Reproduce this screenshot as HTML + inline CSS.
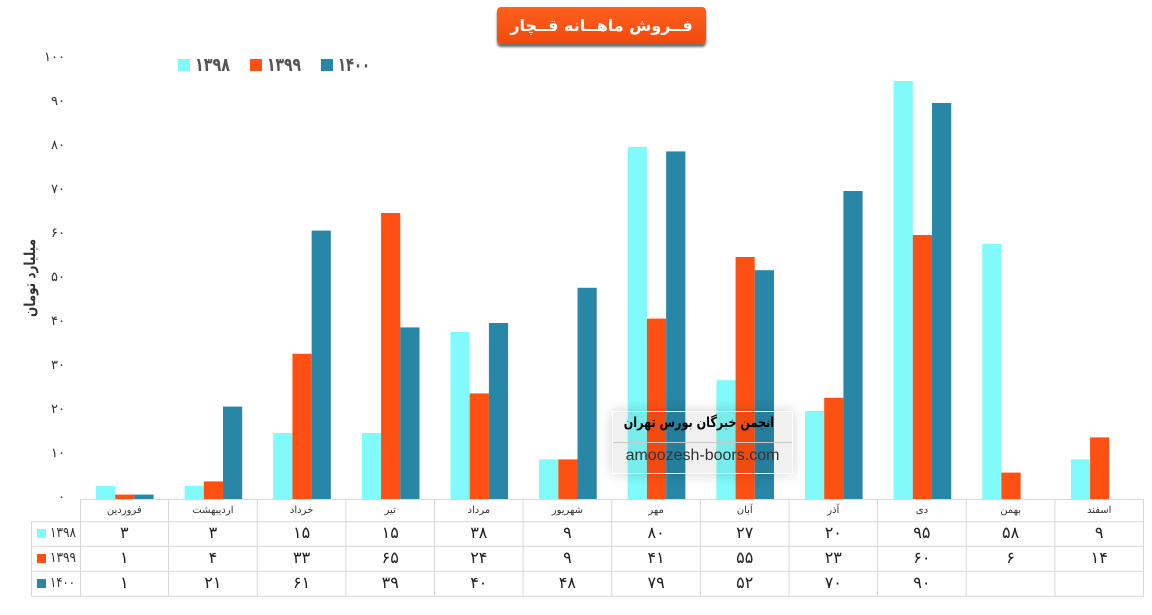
<!DOCTYPE html>
<html>
<head>
<meta charset="utf-8">
<style>
html,body{margin:0;padding:0;background:#fff;}
body{width:1152px;height:615px;position:relative;overflow:hidden;font-family:"DejaVu Sans","Liberation Sans",sans-serif;}
svg{position:absolute;left:0;top:0;}
.title{position:absolute;left:497px;top:7px;width:209px;height:37px;border-radius:4px;
 background:linear-gradient(#ff5f1f,#f24a0c);box-shadow:0 3px 2px rgba(60,60,60,0.75);
 color:#fff;font-weight:bold;font-size:16px;text-align:center;line-height:37px;direction:rtl;white-space:nowrap;
 font-family:"DejaVu Sans",sans-serif;}
.wm{position:absolute;left:612px;top:411px;width:179px;height:61px;border:1px solid #fff;
 background:rgba(0,0,0,0.06);box-shadow:0 0 12px rgba(0,0,0,0.18);}
.wm .t{position:absolute;left:0;top:3px;width:179px;text-align:center;font-weight:bold;font-size:14px;color:#000;direction:rtl;white-space:nowrap;transform:scaleX(0.8);font-family:"DejaVu Sans",sans-serif;}
.wm .l{position:absolute;left:0;top:30px;width:179px;height:1px;background:#c8c8c8;}
.wm .u{position:absolute;left:0;top:35px;width:179px;text-align:center;font-size:16px;color:#333;white-space:nowrap;font-family:"Liberation Sans",sans-serif;}
</style>
</head>
<body>
<svg width="1152" height="615" viewBox="0 0 1152 615" xmlns="http://www.w3.org/2000/svg">
 <!-- y axis labels -->
 <g font-family="DejaVu Sans, sans-serif" font-size="13" fill="#333" text-anchor="end">
  <text x="65" y="61">۱۰۰</text>
  <text x="65" y="105">۹۰</text>
  <text x="65" y="149">۸۰</text>
  <text x="65" y="193">۷۰</text>
  <text x="65" y="237">۶۰</text>
  <text x="65" y="281">۵۰</text>
  <text x="65" y="325">۴۰</text>
  <text x="65" y="369">۳۰</text>
  <text x="65" y="413">۲۰</text>
  <text x="65" y="457">۱۰</text>
  <text x="65" y="501">۰</text>
 </g>
 <text transform="translate(35,278) rotate(-90)" text-anchor="middle" font-family="DejaVu Sans, sans-serif" font-size="15" font-weight="bold" fill="#333" textLength="78" lengthAdjust="spacingAndGlyphs">میلیارد تومان</text>

 <!-- legend -->
 <rect x="178" y="59" width="12" height="12" fill="#80fafa"/>
 <text x="195" y="71" font-family="DejaVu Sans, sans-serif" font-size="19" font-weight="bold" fill="#555" textLength="35" lengthAdjust="spacingAndGlyphs">۱۳۹۸</text>
 <rect x="250" y="59" width="12" height="12" fill="#fe5012"/>
 <text x="267" y="71" font-family="DejaVu Sans, sans-serif" font-size="19" font-weight="bold" fill="#555" textLength="34" lengthAdjust="spacingAndGlyphs">۱۳۹۹</text>
 <rect x="321" y="59" width="12" height="12" fill="#2886a6"/>
 <text x="338" y="71" font-family="DejaVu Sans, sans-serif" font-size="19" font-weight="bold" fill="#555" textLength="32" lengthAdjust="spacingAndGlyphs">۱۴۰۰</text>

 <!-- bars 1398 -->
 <g fill="#80fafa">
  <rect x="96" y="485.8" width="19.2" height="13.2"/>
  <rect x="184.625" y="485.8" width="19.2" height="13.2"/>
  <rect x="273.25" y="433" width="19.2" height="66"/>
  <rect x="361.875" y="433" width="19.2" height="66"/>
  <rect x="450.5" y="331.8" width="19.2" height="167.2"/>
  <rect x="539.125" y="459.4" width="19.2" height="39.6"/>
  <rect x="627.75" y="147" width="19.2" height="352"/>
  <rect x="716.375" y="380.2" width="19.2" height="118.8"/>
  <rect x="805" y="411" width="19.2" height="88"/>
  <rect x="893.625" y="81" width="19.2" height="418"/>
  <rect x="982.25" y="243.8" width="19.2" height="255.2"/>
  <rect x="1070.875" y="459.4" width="19.2" height="39.6"/>
 </g>
 <!-- bars 1399 -->
 <g fill="#fe5012">
  <rect x="115.2" y="494.6" width="19.2" height="4.4"/>
  <rect x="203.825" y="481.4" width="19.2" height="17.6"/>
  <rect x="292.45" y="353.8" width="19.2" height="145.2"/>
  <rect x="381.075" y="213" width="19.2" height="286"/>
  <rect x="469.7" y="393.4" width="19.2" height="105.6"/>
  <rect x="558.325" y="459.4" width="19.2" height="39.6"/>
  <rect x="646.95" y="318.6" width="19.2" height="180.4"/>
  <rect x="735.575" y="257" width="19.2" height="242"/>
  <rect x="824.2" y="397.8" width="19.2" height="101.2"/>
  <rect x="912.825" y="235" width="19.2" height="264"/>
  <rect x="1001.45" y="472.6" width="19.2" height="26.4"/>
  <rect x="1090.075" y="437.4" width="19.2" height="61.6"/>
 </g>
 <!-- bars 1400 -->
 <g fill="#2886a6">
  <rect x="134.4" y="494.6" width="19.2" height="4.4"/>
  <rect x="223.025" y="406.6" width="19.2" height="92.4"/>
  <rect x="311.65" y="230.6" width="19.2" height="268.4"/>
  <rect x="400.275" y="327.4" width="19.2" height="171.6"/>
  <rect x="488.9" y="323" width="19.2" height="176"/>
  <rect x="577.525" y="287.8" width="19.2" height="211.2"/>
  <rect x="666.15" y="151.4" width="19.2" height="347.6"/>
  <rect x="754.775" y="270.2" width="19.2" height="228.8"/>
  <rect x="843.4" y="191" width="19.2" height="308"/>
  <rect x="932.025" y="103" width="19.2" height="396"/>
 </g>

 <!-- table grid -->
 <g stroke="#d9d9d9" stroke-width="1" fill="none">
  <line x1="80" y1="499.5" x2="1143.5" y2="499.5"/>
  <line x1="31" y1="521.7" x2="1143.5" y2="521.7"/>
  <line x1="31" y1="546.3" x2="1143.5" y2="546.3"/>
  <line x1="31" y1="571.3" x2="1143.5" y2="571.3"/>
  <line x1="31" y1="596.3" x2="1143.5" y2="596.3"/>
  <line x1="31.5" y1="521.7" x2="31.5" y2="596.3"/>
  <line x1="80.5" y1="499" x2="80.5" y2="596.3"/>
  <line x1="168.6" y1="499" x2="168.6" y2="596.3"/>
  <line x1="257.25" y1="499" x2="257.25" y2="596.3"/>
  <line x1="345.9" y1="499" x2="345.9" y2="596.3"/>
  <line x1="434.5" y1="499" x2="434.5" y2="596.3"/>
  <line x1="523.1" y1="499" x2="523.1" y2="596.3"/>
  <line x1="611.75" y1="499" x2="611.75" y2="596.3"/>
  <line x1="700.4" y1="499" x2="700.4" y2="596.3"/>
  <line x1="789" y1="499" x2="789" y2="596.3"/>
  <line x1="877.6" y1="499" x2="877.6" y2="596.3"/>
  <line x1="966.25" y1="499" x2="966.25" y2="596.3"/>
  <line x1="1054.9" y1="499" x2="1054.9" y2="596.3"/>
  <line x1="1143.5" y1="499" x2="1143.5" y2="596.3"/>
 </g>

 <!-- month headers -->
 <g font-family="DejaVu Sans, sans-serif" font-size="10" fill="#333" text-anchor="middle">
  <text x="124.3" y="513">فروردین</text>
  <text x="212.9" y="513">اردیبهشت</text>
  <text x="301.6" y="513">خرداد</text>
  <text x="390.2" y="513">تیر</text>
  <text x="478.8" y="513">مرداد</text>
  <text x="567.4" y="513">شهریور</text>
  <text x="656.1" y="513">مهر</text>
  <text x="744.7" y="513">آبان</text>
  <text x="833.3" y="513">آذر</text>
  <text x="921.9" y="513">دی</text>
  <text x="1010.6" y="513">بهمن</text>
  <text x="1099.2" y="513">اسفند</text>
 </g>

 <!-- row legends -->
 <rect x="37" y="529" width="9" height="9" fill="#80fafa"/>
 <rect x="37" y="554" width="9" height="9" fill="#fe5012"/>
 <rect x="37" y="579" width="9" height="9" fill="#2886a6"/>
 <g font-family="DejaVu Sans, sans-serif" font-size="14" fill="#333">
  <text x="50" y="537" textLength="26" lengthAdjust="spacingAndGlyphs">۱۳۹۸</text>
  <text x="50" y="562" textLength="26" lengthAdjust="spacingAndGlyphs">۱۳۹۹</text>
  <text x="50" y="587" textLength="25" lengthAdjust="spacingAndGlyphs">۱۴۰۰</text>
 </g>

 <!-- values -->
 <g font-family="DejaVu Sans, sans-serif" font-size="16" fill="#222" text-anchor="middle">
  <text x="124.3" y="538">۳</text>
  <text x="212.9" y="538">۳</text>
  <text x="301.6" y="538">۱۵</text>
  <text x="390.2" y="538">۱۵</text>
  <text x="478.8" y="538">۳۸</text>
  <text x="567.4" y="538">۹</text>
  <text x="656.1" y="538">۸۰</text>
  <text x="744.7" y="538">۲۷</text>
  <text x="833.3" y="538">۲۰</text>
  <text x="921.9" y="538">۹۵</text>
  <text x="1010.6" y="538">۵۸</text>
  <text x="1099.2" y="538">۹</text>

  <text x="124.3" y="563">۱</text>
  <text x="212.9" y="563">۴</text>
  <text x="301.6" y="563">۳۳</text>
  <text x="390.2" y="563">۶۵</text>
  <text x="478.8" y="563">۲۴</text>
  <text x="567.4" y="563">۹</text>
  <text x="656.1" y="563">۴۱</text>
  <text x="744.7" y="563">۵۵</text>
  <text x="833.3" y="563">۲۳</text>
  <text x="921.9" y="563">۶۰</text>
  <text x="1010.6" y="563">۶</text>
  <text x="1099.2" y="563">۱۴</text>

  <text x="124.3" y="588">۱</text>
  <text x="212.9" y="588">۲۱</text>
  <text x="301.6" y="588">۶۱</text>
  <text x="390.2" y="588">۳۹</text>
  <text x="478.8" y="588">۴۰</text>
  <text x="567.4" y="588">۴۸</text>
  <text x="656.1" y="588">۷۹</text>
  <text x="744.7" y="588">۵۲</text>
  <text x="833.3" y="588">۷۰</text>
  <text x="921.9" y="588">۹۰</text>
 </g>
</svg>

<div class="title">فــروش ماهــانه قــچار</div>

<div class="wm">
 <div class="t">انجمن خبرگان بورس تهران</div>
 <div class="l"></div>
 <div class="u">amoozesh-boors.com</div>
</div>
</body>
</html>
